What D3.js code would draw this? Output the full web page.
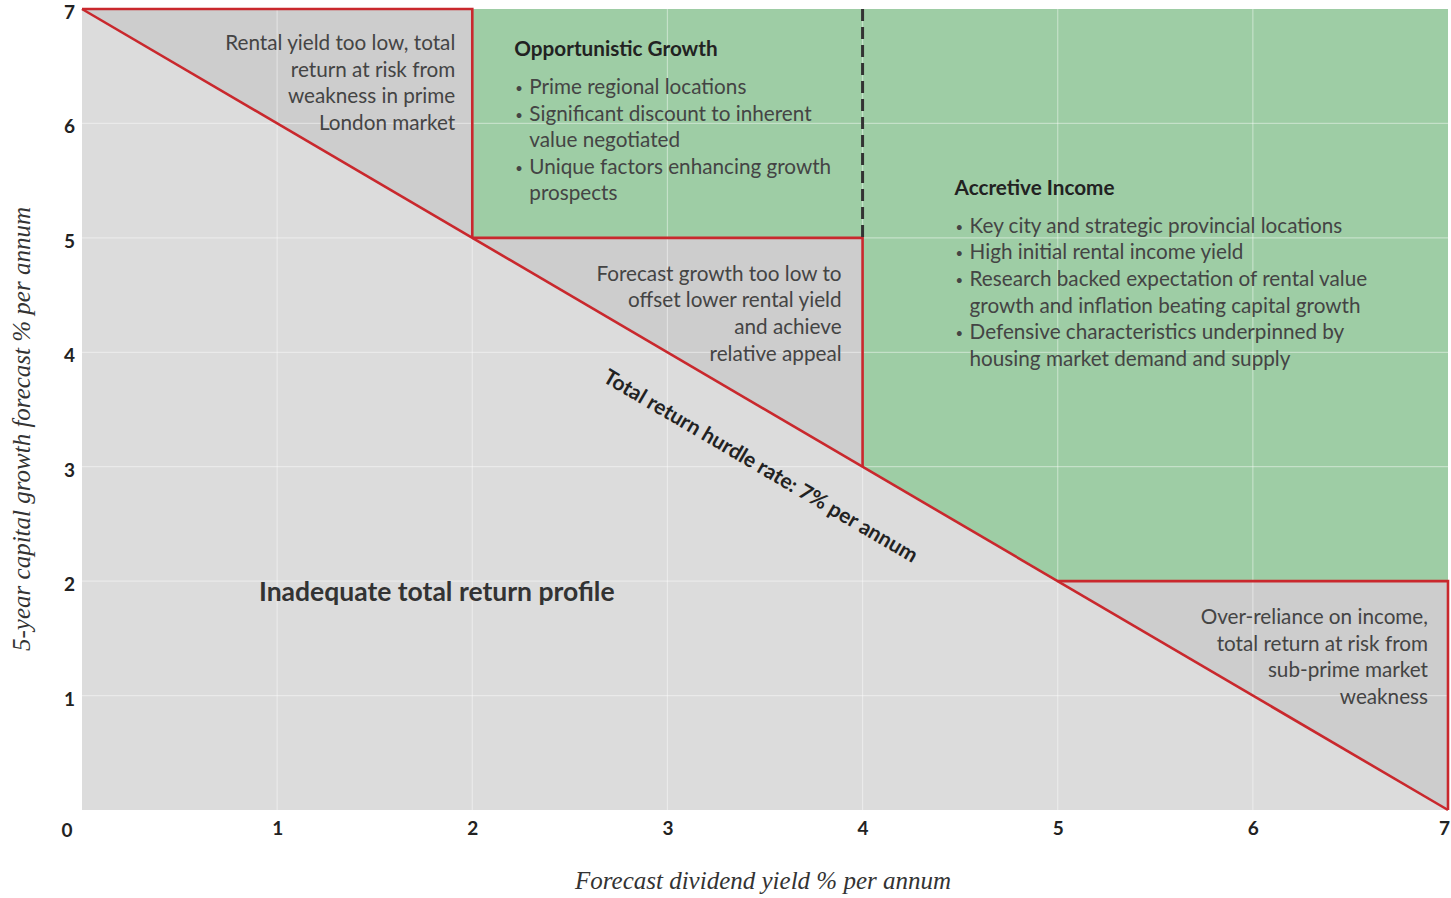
<!DOCTYPE html>
<html>
<head>
<meta charset="utf-8">
<script src="https://cdn.jsdelivr.net/npm/d3@7"></script>
<style>
  body { margin: 0; background: #fff; }
  svg text { font-family: Lato, "Open Sans", sans-serif; }
</style>
</head>
<body>
<svg id="chart" width="1451" height="898"></svg>
<script>
// ---- data ----
var xTicks = [1, 2, 3, 4, 5, 6, 7];
var yTicks = [1, 2, 3, 4, 5, 6, 7];
var gridVals = [1, 2, 3, 4, 5, 6];

// zones, in (dividend yield, capital growth) units
var greenZone = [[2, 7], [7, 7], [7, 2], [5, 2], [4, 3], [4, 5], [2, 5]];
var greyZones = [
  [[0, 7], [2, 7], [2, 5]],
  [[2, 5], [4, 5], [4, 3]],
  [[5, 2], [7, 2], [7, 0]]
];
var redLines = [
  [[0, 7], [7, 0]],
  [[0, 7], [2, 7], [2, 5]],
  [[2, 5], [4, 5], [4, 3]],
  [[5, 2], [7, 2], [7, 0]]
];
var dashedLine = [[4, 7], [4, 5]];

var topLeftText = ["Rental yield too low, total", "return at risk from", "weakness in prime", "London market"];
var middleText = ["Forecast growth too low to", "offset lower rental yield", "and achieve", "relative appeal"];
var bottomRightText = ["Over-reliance on income,", "total return at risk from", "sub-prime market", "weakness"];
var oppTitle = "Opportunistic Growth";
var oppBullets = [["Prime regional locations"], ["Significant discount to inherent", "value negotiated"], ["Unique factors enhancing growth", "prospects"]];
var accTitle = "Accretive Income";
var accBullets = [["Key city and strategic provincial locations"], ["High initial rental income yield"],
  ["Research backed expectation of rental value", "growth and inflation beating capital growth"],
  ["Defensive characteristics underpinned by", "housing market demand and supply"]];

var svg = d3.select("#chart");

var x = d3.scaleLinear().domain([0, 7]).range([82, 1448]);
var y = d3.scaleLinear().domain([0, 7]).range([810, 9]);

var line = d3.line().x(function(d){ return x(d[0]); }).y(function(d){ return y(d[1]); });

// background
svg.append("rect")
  .attr("x", x(0)).attr("y", y(7))
  .attr("width", x(7) - x(0)).attr("height", y(0) - y(7))
  .attr("fill", "#dcdcdc");

svg.append("path")
  .attr("d", line(greenZone) + "Z")
  .attr("fill", "#9ecda5");

svg.selectAll(".grey")
  .data(greyZones)
  .enter().append("path")
  .attr("class", "grey")
  .attr("d", function(d){ return line(d) + "Z"; })
  .attr("fill", "#cdcdcd");

// grid
svg.selectAll(".vgrid")
  .data(gridVals)
  .enter().append("line")
  .attr("x1", function(d){ return x(d); }).attr("x2", function(d){ return x(d); })
  .attr("y1", y(7)).attr("y2", y(0))
  .attr("stroke", "#fff").attr("stroke-opacity", 0.4).attr("stroke-width", 1.2);

svg.selectAll(".hgrid")
  .data(gridVals)
  .enter().append("line")
  .attr("y1", function(d){ return y(d); }).attr("y2", function(d){ return y(d); })
  .attr("x1", x(0)).attr("x2", x(7))
  .attr("stroke", "#fff").attr("stroke-opacity", 0.4).attr("stroke-width", 1.2);

// red boundaries
svg.selectAll(".red")
  .data(redLines)
  .enter().append("path")
  .attr("d", line)
  .attr("fill", "none")
  .attr("stroke", "#c9282d")
  .attr("stroke-width", 2.6);

svg.append("path")
  .attr("d", line(dashedLine))
  .attr("stroke", "#333")
  .attr("stroke-width", 3)
  .attr("stroke-dasharray", "12,6");

// axes
var xAxis = svg.append("g")
  .attr("transform", "translate(0," + y(0) + ")")
  .call(d3.axisBottom(x).tickValues(xTicks).tickSize(0).tickPadding(12).tickFormat(d3.format("d")));
var yAxis = svg.append("g")
  .attr("transform", "translate(" + x(0) + ",0)")
  .call(d3.axisLeft(y).tickValues(yTicks).tickSize(0).tickPadding(7).tickFormat(d3.format("d")));
[xAxis, yAxis].forEach(function(a){
  a.select(".domain").remove();
  a.selectAll("text")
    .style("font-family", "Lato, sans-serif")
    .style("font-size", "19px")
    .style("font-weight", "700")
    .attr("fill", "#222");
});
yAxis.selectAll("text").attr("dy", "0.5em");
xAxis.selectAll("text").filter(function(d){ return d === 7; }).attr("dx", -4);

svg.append("text")
  .attr("x", 67).attr("y", 837)
  .attr("text-anchor", "middle")
  .style("font-size", "19px").style("font-weight", "700")
  .attr("fill", "#222")
  .text("0");

// axis titles
svg.append("text")
  .attr("transform", "translate(" + 763 + "," + 889 + ")")
  .attr("text-anchor", "middle")
  .style("font-family", "'Liberation Serif', serif")
  .style("font-style", "italic")
  .style("font-size", "25px")
  .attr("fill", "#333")
  .text("Forecast dividend yield % per annum");

svg.append("text")
  .attr("transform", "translate(" + 30 + "," + 429 + ") rotate(-90)")
  .attr("text-anchor", "middle")
  .style("font-family", "'Liberation Serif', serif")
  .style("font-style", "italic")
  .style("font-size", "25px")
  .attr("fill", "#333")
  .text("5-year capital growth forecast % per annum");

// annotation helpers
var lh = 26.6;
var fs = "20.7px";
function rightBlock(lines, px, py) {
  var t = svg.append("text")
    .attr("text-anchor", "end")
    .style("font-size", fs)
    .attr("fill", "#444");
  lines.forEach(function(s, i){
    t.append("tspan").attr("x", px).attr("y", py + i * lh).text(s);
  });
}
function bulletBlock(title, bullets, px, py) {
  svg.append("text")
    .attr("x", px).attr("y", py)
    .style("font-size", fs).style("font-weight", "700")
    .attr("fill", "#222")
    .text(title);
  var row = 0;
  bullets.forEach(function(b){
    svg.append("text")
      .attr("x", px + 1).attr("y", py + 38 + row * lh - 1)
      .style("font-size", "13px").attr("fill", "#444")
      .text("•");
    b.forEach(function(s){
      svg.append("text")
        .attr("x", px + 15).attr("y", py + 38 + row * lh)
        .style("font-size", fs).attr("fill", "#444")
        .text(s);
      row++;
    });
  });
}

rightBlock(topLeftText, x(2) - 17, y(7) + 41);
rightBlock(middleText, x(4) - 21, y(5) + 43);
rightBlock(bottomRightText, x(7) - 20, y(2) + 43);
bulletBlock(oppTitle, oppBullets, x(2) + 42, y(7) + 47);
bulletBlock(accTitle, accBullets, x(4) + 92, y(5) - 43);

svg.append("text")
  .attr("x", x(0) + 177).attr("y", y(2) + 20)
  .style("font-size", "26.5px").style("font-weight", "700")
  .attr("fill", "#333")
  .text("Inadequate total return profile");

// hurdle label along the diagonal
var angle = Math.atan((y(0) - y(7)) / (x(7) - x(0))) * 180 / Math.PI;
var hx = 3.61;
svg.append("text")
  .attr("transform", "translate(" + x(hx) + "," + y(7 - hx) + ") rotate(" + angle + ")")
  .attr("y", 58)
  .attr("text-anchor", "middle")
  .style("font-size", "21px").style("font-weight", "700")
  .attr("fill", "#222")
  .text("Total return hurdle rate: 7% per annum");
</script>
</body>
</html>
